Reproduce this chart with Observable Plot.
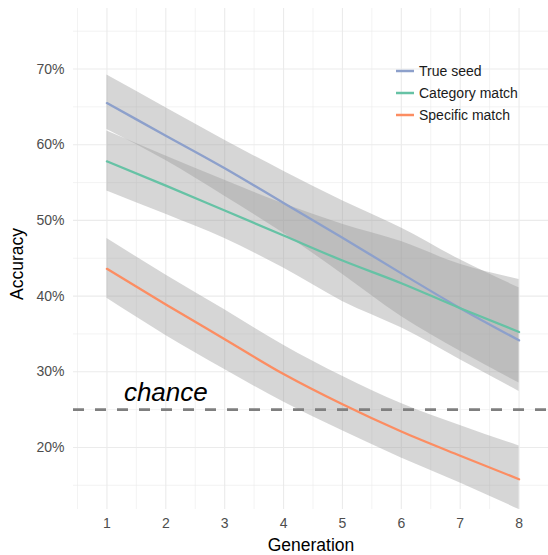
<!DOCTYPE html>
<html><head><meta charset="utf-8">
<script src="https://cdn.jsdelivr.net/npm/d3@7"></script>
<script src="https://cdn.jsdelivr.net/npm/@observablehq/plot@0.6"></script>
<style>
html,body{margin:0;padding:0;background:#fff;}
#wrap{position:relative;width:548px;height:555px;font-family:"Liberation Sans",Arial,Helvetica,sans-serif;}
#legend{position:absolute;left:396px;top:60px;}
.item{display:flex;align-items:center;height:22px;font-size:14px;color:#1a1a1a;white-space:nowrap;}
.item svg{margin-right:5px;display:block;}
</style></head><body><div id="wrap"><div id="legend"></div></div>
<script>
// ---- data ----
const generations = [1, 2, 3, 4, 5, 6, 7, 8];
const seriesNames = ["True seed", "Category match", "Specific match"];
const seriesColors = ["#8DA0CB", "#66C2A5", "#FC8D62"];

const trueSeed   = [65.5, 61.2, 56.9, 52.3, 47.7, 43.0, 38.4, 34.15];
const trueSeedLo = [62.0, 57.9, 53.2, 48.3, 42.9, 37.3, 32.7, 28.5];
const trueSeedHi = [69.2, 64.9, 60.6, 56.5, 52.6, 49.0, 44.8, 41.1];

const category   = [57.8, 54.6, 51.3, 48.0, 44.7, 41.7, 38.4, 35.25];
const categoryLo = [53.9, 50.8, 47.6, 43.7, 39.3, 35.8, 31.6, 27.4];
const categoryHi = [61.8, 58.5, 55.3, 52.2, 49.5, 47.2, 44.2, 42.2];

const specific   = [43.6, 38.9, 34.3, 29.7, 25.7, 22.1, 18.9, 15.8];
const specificLo = [39.7, 34.8, 30.3, 26.0, 22.2, 18.6, 15.3, 11.8];
const specificHi = [47.6, 42.8, 38.2, 33.5, 29.4, 25.8, 22.9, 20.2];

const chanceLevel = 25;
const chanceLabel = "chance";
const chanceLabelGen = 2;
const chanceLabelY = 27.2;

const xMajorTicks = [1, 2, 3, 4, 5, 6, 7, 8];
const xMinorTicks = [0.5, 1.5, 2.5, 3.5, 4.5, 5.5, 6.5, 7.5, 8.5];
const yMajorTicks = [20, 30, 40, 50, 60, 70];
const yMinorTicks = [15, 25, 35, 45, 55, 65, 75];
const xTitle = "Generation";
const yTitle = "Accuracy";

// ---- build table ----
const seriesValues = [
  [trueSeed, trueSeedLo, trueSeedHi],
  [category, categoryLo, categoryHi],
  [specific, specificLo, specificHi]
];
const tables = seriesValues.map(([c, lo, hi], s) =>
  generations.map((g, i) => ({gen: g, y: c[i], lo: lo[i], hi: hi[i], series: seriesNames[s]}))
);

const gridColor = "#ebebeb";
const marks = [
  Plot.gridX(xMinorTicks, {stroke: gridColor, strokeOpacity: 1, strokeWidth: 0.6}),
  Plot.gridX(xMajorTicks, {stroke: gridColor, strokeOpacity: 1, strokeWidth: 1.1}),
  Plot.gridY(yMinorTicks, {stroke: gridColor, strokeOpacity: 1, strokeWidth: 0.6}),
  Plot.gridY(yMajorTicks, {stroke: gridColor, strokeOpacity: 1, strokeWidth: 1.1}),
  ...tables.map(t => Plot.areaY(t, {x: "gen", y1: "lo", y2: "hi", fill: "#999999", fillOpacity: 0.4, curve: "monotone-x"})),
  Plot.ruleY([chanceLevel], {stroke: "#7f7f7f", strokeWidth: 2.8, strokeDasharray: "11,11"}),
  ...tables.map((t, s) => Plot.lineY(t, {x: "gen", y: "y", stroke: seriesColors[s], strokeWidth: 2.3, curve: "monotone-x"})),
  Plot.text([chanceLabel], {x: () => chanceLabelGen, y: () => chanceLabelY, text: d => d, fontSize: 26, fontStyle: "italic", fill: "#000", textAnchor: "middle"}),
  Plot.axisX(xMajorTicks, {tickSize: 0, tickPadding: 9, fontSize: 14, color: "#4d4d4d", label: null}),
  Plot.axisY(yMajorTicks, {tickSize: 0, tickPadding: 9, fontSize: 14, color: "#4d4d4d", label: null, tickFormat: d => d + "%"}),
  Plot.text([xTitle], {frameAnchor: "bottom", text: d => d, dy: 36, fontSize: 17.5, fill: "#000", lineAnchor: "middle", textAnchor: "middle"}),
  Plot.text([yTitle], {frameAnchor: "left", text: d => d, dx: -56, dy: 5, rotate: -90, fontSize: 17.5, fill: "#000", lineAnchor: "middle", textAnchor: "middle"})
];

const chart = Plot.plot({
  width: 548,
  height: 555,
  marginLeft: 73,
  marginRight: 0,
  marginTop: 8,
  marginBottom: 46,
  x: {domain: [0.432, 8.5]},
  y: {domain: [11.8, 78.0]},
  style: {fontFamily: "'Liberation Sans', Arial, Helvetica, sans-serif", background: "white", overflow: "visible"},
  marks
});
const wrap = document.getElementById("wrap");
wrap.insertBefore(chart, wrap.firstChild);

// ---- legend ----
const legend = document.getElementById("legend");
seriesNames.forEach((name, i) => {
  const item = document.createElement("div");
  item.className = "item";
  item.innerHTML = `<svg width="18" height="6"><line x1="0" x2="18" y1="3" y2="3" stroke="${seriesColors[i]}" stroke-width="2.5"/></svg><span>${name}</span>`;
  legend.appendChild(item);
});
</script>
</body></html>
